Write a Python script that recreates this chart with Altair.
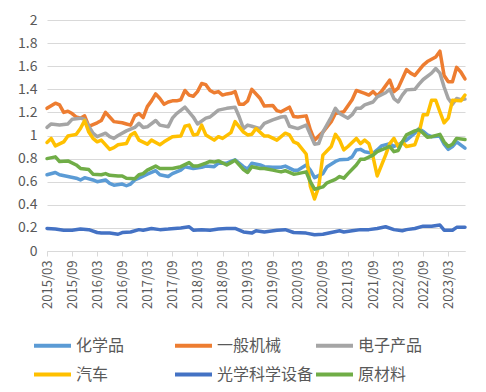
import altair as alt
import pandas as pd

# Month offsets from 2015/03 (0 = 2015/03, 100 = 2023/07) and values
SERIES = ["化学品", "一般机械", "电子产品", "汽车", "光学科学设备", "原材料"]
COLORS = ["#5B9BD5", "#ED7D31", "#A5A5A5", "#FFC000", "#4472C4", "#70AD47"]

CHEM_M = [0, 2, 3, 5, 7, 8, 9, 11, 12, 14, 15, 16, 18, 19, 20, 21, 22, 24, 26, 27, 29, 30, 32, 33, 35, 37, 38, 40, 41, 43, 44, 45, 47, 48, 49, 51, 52, 54, 56, 57, 59, 60, 62, 63, 64, 66, 67, 69, 70, 72, 73, 74, 75, 76, 78, 79, 80, 82, 83, 84, 86, 88, 89, 90, 91, 92, 94, 95, 96, 97, 98, 100]
CHEM_V = [0.66, 0.68, 0.66, 0.645, 0.63, 0.615, 0.635, 0.615, 0.60, 0.615, 0.585, 0.57, 0.58, 0.565, 0.58, 0.615, 0.63, 0.665, 0.695, 0.66, 0.645, 0.67, 0.70, 0.73, 0.715, 0.725, 0.735, 0.73, 0.76, 0.76, 0.775, 0.79, 0.73, 0.71, 0.76, 0.745, 0.73, 0.725, 0.725, 0.735, 0.70, 0.70, 0.745, 0.70, 0.635, 0.67, 0.73, 0.775, 0.79, 0.795, 0.815, 0.875, 0.88, 0.86, 0.845, 0.875, 0.91, 0.93, 0.905, 0.92, 0.96, 1.02, 1.06, 1.035, 1.005, 0.99, 0.995, 0.925, 0.88, 0.905, 0.945, 0.89]

MACH_M = [0, 2, 3, 4, 5, 6, 7, 8, 9, 10, 12, 13, 14, 15, 16, 18, 19, 20, 21, 22, 23, 24, 25, 26, 27, 28, 29, 30, 31, 32, 33, 34, 35, 36, 37, 38, 39, 40, 41, 42, 43, 44, 45, 46, 47, 48, 49, 51, 52, 54, 55, 56, 58, 59, 60, 62, 63, 64, 66, 68, 69, 71, 73, 74, 76, 77, 78, 79, 80, 82, 83, 84, 86, 87, 88, 90, 91, 93, 94, 95, 96, 97, 98, 99, 100]
MACH_V = [1.235, 1.28, 1.265, 1.20, 1.21, 1.19, 1.16, 1.15, 1.17, 1.08, 1.11, 1.13, 1.20, 1.16, 1.12, 1.11, 1.10, 1.09, 1.17, 1.19, 1.155, 1.25, 1.30, 1.36, 1.32, 1.27, 1.29, 1.30, 1.30, 1.31, 1.39, 1.35, 1.34, 1.38, 1.45, 1.44, 1.39, 1.37, 1.38, 1.35, 1.36, 1.365, 1.38, 1.27, 1.27, 1.30, 1.40, 1.32, 1.255, 1.26, 1.215, 1.205, 1.245, 1.165, 1.16, 1.17, 1.05, 0.96, 1.03, 1.12, 1.19, 1.205, 1.31, 1.39, 1.365, 1.35, 1.38, 1.345, 1.38, 1.48, 1.38, 1.41, 1.57, 1.54, 1.52, 1.61, 1.64, 1.68, 1.73, 1.52, 1.465, 1.465, 1.59, 1.55, 1.49]

ELEC_M = [0, 1, 3, 5, 6, 8, 9, 11, 12, 14, 15, 16, 17, 19, 21, 22, 23, 24, 26, 27, 29, 30, 31, 33, 35, 36, 38, 39, 40, 41, 43, 45, 46, 47, 48, 49, 51, 52, 54, 56, 57, 58, 60, 62, 64, 65, 66, 68, 69, 70, 72, 73, 74, 75, 76, 78, 79, 81, 82, 83, 84, 85, 86, 88, 89, 90, 92, 93, 94, 95, 96, 97, 98, 99, 100]
ELEC_V = [1.07, 1.10, 1.09, 1.10, 1.14, 1.15, 1.14, 1.02, 0.99, 1.02, 0.99, 0.975, 1.00, 1.04, 1.07, 1.105, 1.07, 1.075, 1.13, 1.09, 1.075, 1.15, 1.19, 1.245, 1.16, 1.10, 1.15, 1.16, 1.19, 1.22, 1.235, 1.245, 1.16, 1.06, 1.09, 1.08, 1.06, 1.105, 1.135, 1.16, 1.165, 1.08, 1.06, 1.09, 0.925, 0.93, 1.03, 1.16, 1.235, 1.19, 1.15, 1.18, 1.235, 1.235, 1.265, 1.29, 1.335, 1.37, 1.40, 1.32, 1.29, 1.35, 1.395, 1.40, 1.445, 1.485, 1.54, 1.58, 1.54, 1.42, 1.32, 1.27, 1.32, 1.31, 1.315]

AUTO_M = [0, 1, 2, 4, 5, 7, 8, 9, 10, 11, 12, 13, 15, 16, 17, 19, 20, 21, 22, 24, 25, 27, 28, 30, 32, 33, 34, 35, 36, 37, 38, 40, 41, 42, 44, 45, 47, 48, 49, 50, 52, 53, 55, 57, 58, 59, 60, 62, 63, 64, 65, 66, 68, 69, 70, 71, 72, 74, 75, 76, 77, 78, 79, 81, 82, 83, 84, 85, 86, 88, 89, 90, 91, 92, 93, 94, 95, 96, 97, 99, 100]
AUTO_V = [0.94, 0.975, 0.91, 0.945, 0.995, 1.01, 1.06, 1.13, 1.03, 0.975, 0.945, 0.96, 0.88, 0.895, 0.92, 0.93, 1.005, 1.025, 0.96, 0.925, 0.96, 0.92, 0.945, 0.99, 0.995, 1.08, 1.09, 1.005, 1.01, 1.09, 1.005, 0.96, 0.99, 0.975, 1.025, 1.12, 1.03, 1.005, 1.01, 1.06, 0.995, 0.995, 0.96, 1.02, 1.005, 0.945, 0.93, 0.84, 0.56, 0.45, 0.555, 0.83, 0.905, 1.01, 0.96, 0.875, 0.905, 0.975, 0.93, 0.96, 0.93, 0.815, 0.65, 0.83, 0.93, 0.975, 0.905, 0.945, 0.905, 0.92, 1.02, 1.18, 1.18, 1.305, 1.305, 1.205, 1.11, 1.15, 1.305, 1.30, 1.35]

OPT_M = [0, 2, 4, 6, 8, 10, 12, 13, 15, 17, 18, 20, 22, 23, 25, 27, 29, 32, 34, 35, 37, 39, 41, 43, 45, 47, 49, 50, 52, 55, 57, 59, 62, 64, 66, 68, 70, 71, 73, 75, 77, 79, 81, 83, 85, 86, 88, 90, 92, 94, 95, 97, 98, 100]
OPT_V = [0.195, 0.19, 0.18, 0.18, 0.19, 0.185, 0.16, 0.155, 0.155, 0.145, 0.16, 0.165, 0.185, 0.18, 0.195, 0.185, 0.19, 0.20, 0.21, 0.18, 0.185, 0.18, 0.19, 0.195, 0.195, 0.165, 0.155, 0.175, 0.165, 0.18, 0.185, 0.16, 0.155, 0.14, 0.145, 0.16, 0.175, 0.165, 0.175, 0.185, 0.185, 0.195, 0.21, 0.185, 0.175, 0.185, 0.195, 0.215, 0.215, 0.225, 0.18, 0.18, 0.205, 0.205]

RAW_M = [0, 2, 3, 5, 7, 8, 10, 11, 13, 14, 15, 17, 18, 19, 21, 22, 23, 24, 26, 27, 29, 30, 32, 34, 35, 36, 38, 39, 40, 41, 43, 44, 45, 47, 48, 49, 51, 52, 54, 56, 57, 59, 60, 62, 63, 64, 66, 67, 69, 70, 71, 72, 74, 75, 76, 78, 79, 80, 82, 83, 84, 85, 86, 88, 89, 90, 91, 92, 94, 95, 96, 97, 98, 100]
RAW_V = [0.80, 0.815, 0.775, 0.78, 0.745, 0.715, 0.705, 0.665, 0.66, 0.67, 0.655, 0.65, 0.65, 0.63, 0.625, 0.66, 0.67, 0.70, 0.735, 0.715, 0.715, 0.715, 0.73, 0.765, 0.735, 0.735, 0.76, 0.775, 0.77, 0.78, 0.745, 0.765, 0.785, 0.705, 0.68, 0.73, 0.715, 0.715, 0.70, 0.685, 0.695, 0.665, 0.67, 0.685, 0.60, 0.535, 0.555, 0.59, 0.62, 0.645, 0.63, 0.67, 0.745, 0.795, 0.795, 0.83, 0.86, 0.875, 0.905, 0.86, 0.87, 0.945, 1.005, 1.04, 1.05, 1.02, 0.985, 0.99, 1.01, 0.945, 0.905, 0.925, 0.975, 0.965]

TICK_MONTHS = list(range(0, 97, 6))

pairs = [(CHEM_M, CHEM_V), (MACH_M, MACH_V), (ELEC_M, ELEC_V),
         (AUTO_M, AUTO_V), (OPT_M, OPT_V), (RAW_M, RAW_V)]
rows = []
for name, (ms, vs) in zip(SERIES, pairs):
    for m, v in zip(ms, vs):
        rows.append({"series": name, "m": m, "v": v})
df = pd.DataFrame(rows)

FONT = "Noto Sans CJK SC"
label_expr = "(2015 + floor((datum.value + 2) / 12)) + '/' + (datum.value % 12 == 0 ? '03' : '09')"

color = alt.Color(
    "series:N",
    scale=alt.Scale(domain=SERIES, range=COLORS),
    legend=alt.Legend(
        title=None, orient="none", legendX=-15, legendY=305, columns=3,
        direction="horizontal", gridAlign="all", columnPadding=-8, rowPadding=-3,
        symbolType="stroke", symbolSize=1369, symbolStrokeWidth=4,
        labelFont=FONT, labelFontSize=16, labelColor="#595959", labelOffset=3,
        labelLimit=200,
    ),
)

x = alt.X("m:Q", scale=alt.Scale(domain=[0, 100], nice=False, zero=False),
          axis=alt.Axis(title=None, values=TICK_MONTHS, labelExpr=label_expr,
                        labelAngle=270, grid=False, domainColor="#D9D9D9",
                        tickColor="#D9D9D9", tickSize=5, labelPadding=4,
                        labelFont=FONT, labelFontSize=13, labelColor="#595959"))
y = alt.Y("v:Q", scale=alt.Scale(domain=[0, 2], nice=False),
          axis=alt.Axis(title=None, values=[round(i * 0.2, 1) for i in range(11)],
                        format=".1~f", domain=False, ticks=False, labelPadding=10,
                        gridColor="#D9D9D9", gridWidth=1,
                        labelFont=FONT, labelFontSize=14, labelColor="#595959"))

layers = []
for name in SERIES:
    layers.append(
        alt.Chart(df).transform_filter(alt.datum.series == name)
        .mark_line(strokeWidth=3.5, strokeJoin="round", strokeCap="round")
        .encode(x=x, y=y, color=color)
    )

chart = alt.layer(*layers).properties(
    width=418, height=231,
    autosize=alt.AutoSizeParams(type="none"),
    padding={"left": 39, "top": 12, "right": 13, "bottom": 133},
).configure_view(stroke=None)

chart.save("out.html", embed_options={"renderer": "svg", "actions": False})
